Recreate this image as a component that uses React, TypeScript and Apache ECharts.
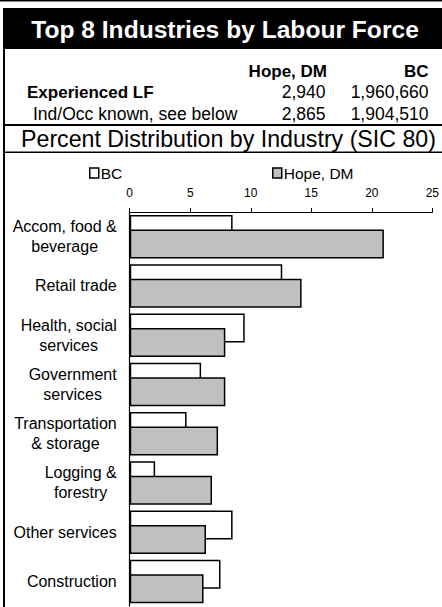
import React, { useEffect, useRef } from "react";
import * as echarts from "echarts";

const title = "Top 8 Industries by Labour Force";
const tableHeaders = ["Hope, DM", "BC"];
const tableRows = ["Experienced LF", "Ind/Occ known, see below"];
const hopeCounts = ["2,940", "2,865"];
const bcCounts = ["1,960,660", "1,904,510"];
const subtitle = "Percent Distribution by Industry (SIC 80)";

const categories = [
  "Accom, food &\nbeverage",
  "Retail trade",
  "Health, social\nservices",
  "Government\nservices",
  "Transportation\n& storage",
  "Logging &\nforestry",
  "Other services",
  "Construction",
];
const bcValues = [8.5, 12.6, 9.5, 5.9, 4.7, 2.1, 8.5, 7.5];
const hopeValues = [21.0, 14.2, 7.9, 7.9, 7.3, 6.8, 6.3, 6.1];
const xTicks = { min: 0, max: 25, interval: 5 };

const FONT = "Liberation Sans, Arial, sans-serif";

export default function App() {
  const ref = useRef<HTMLDivElement>(null);
  useEffect(() => {
    if (!ref.current) return;
    const chart = echarts.init(ref.current, null, { renderer: "svg" });
    const graphic: any[] = [
      { type: "rect", shape: { x: 0, y: 0, width: 442, height: 1.5 }, style: { fill: "#000" } },
      { type: "rect", shape: { x: 3, y: 8, width: 439, height: 41 }, style: { fill: "#000" } },
      { type: "rect", shape: { x: 3, y: 49, width: 2, height: 558 }, style: { fill: "#000" } },
      { type: "rect", shape: { x: 3, y: 124, width: 439, height: 2 }, style: { fill: "#000" } },
      { type: "rect", shape: { x: 3, y: 151.5, width: 439, height: 1.5 }, style: { fill: "#000" } },
      {
        type: "text", x: 225, y: 29.5,
        style: { text: title, fill: "#fff", font: `bold 24.6px ${FONT}`, align: "center", verticalAlign: "middle" },
      },
      {
        type: "text", x: 327, y: 71,
        style: { text: tableHeaders[0], fill: "#000", font: `bold 17px ${FONT}`, align: "right", verticalAlign: "middle" },
      },
      {
        type: "text", x: 428.5, y: 71,
        style: { text: tableHeaders[1], fill: "#000", font: `bold 17px ${FONT}`, align: "right", verticalAlign: "middle" },
      },
      {
        type: "text", x: 27, y: 92,
        style: { text: tableRows[0], fill: "#000", font: `bold 17px ${FONT}`, align: "left", verticalAlign: "middle" },
      },
      {
        type: "text", x: 33, y: 113.5,
        style: { text: tableRows[1], fill: "#000", font: `17.5px ${FONT}`, align: "left", verticalAlign: "middle" },
      },
      ...hopeCounts.map((t, i) => ({
        type: "text", x: 325.5, y: i === 0 ? 92 : 113.5,
        style: { text: t, fill: "#000", font: `17.5px ${FONT}`, align: "right", verticalAlign: "middle" },
      })),
      ...bcCounts.map((t, i) => ({
        type: "text", x: 428.5, y: i === 0 ? 92 : 113.5,
        style: { text: t, fill: "#000", font: `17.5px ${FONT}`, align: "right", verticalAlign: "middle" },
      })),
      {
        type: "text", x: 228.5, y: 139,
        style: { text: subtitle, fill: "#000", font: `23.2px ${FONT}`, align: "center", verticalAlign: "middle" },
      },
    ];

    chart.setOption({
      animation: false,
      backgroundColor: "#fff",
      textStyle: { fontFamily: FONT },
      graphic,
      legend: [
        {
          data: ["BC"], left: 84, top: 160, icon: "rect", itemWidth: 9, itemHeight: 10, itemGap: 0,
          textStyle: { fontSize: 15.5, color: "#000", padding: [0, 0, 0, -3] },
          itemStyle: { borderColor: "#000", borderWidth: 1.5 },
        },
        {
          data: ["Hope, DM"], left: 267, top: 160, icon: "rect", itemWidth: 9, itemHeight: 10, itemGap: 0,
          textStyle: { fontSize: 15.5, color: "#000", padding: [0, 0, 0, -3] },
          itemStyle: { borderColor: "#000", borderWidth: 1.5 },
        },
      ],
      grid: { left: 129.7, right: 8, top: 212, bottom: 1, containLabel: false },
      xAxis: {
        type: "value",
        position: "top",
        min: xTicks.min,
        max: xTicks.max,
        interval: xTicks.interval,
        axisLine: { show: true, lineStyle: { color: "#000", width: 1 } },
        axisTick: { show: true, length: 4, lineStyle: { color: "#000" } },
        axisLabel: { fontSize: 12, color: "#000", margin: 13 },
        splitLine: { show: false },
      },
      yAxis: {
        type: "category",
        inverse: true,
        data: categories,
        axisLine: { show: true, lineStyle: { color: "#000", width: 1.2 } },
        axisTick: { show: false },
        axisLabel: {
          margin: 13,
          formatter: (v: string) => v.split("\n").map((l) => `{c|${l}}`).join("\n"),
          rich: { c: { align: "center", fontSize: 16, lineHeight: 20, color: "#000", fontFamily: FONT } },
        },
      },
      series: [
        {
          name: "BC",
          type: "bar",
          data: bcValues,
          barWidth: 29,
          barGap: "-50%",
          itemStyle: { color: "#fff", borderColor: "#000", borderWidth: 1.5 },
        },
        {
          name: "Hope, DM",
          type: "bar",
          data: hopeValues,
          barWidth: 29,
          barGap: "-50%",
          itemStyle: { color: "#c0c0c0", borderColor: "#000", borderWidth: 1.5 },
        },
      ],
    });
    return () => chart.dispose();
  }, []);
  return (
    <div
      ref={ref}
      style={{ position: "absolute", left: 0, top: 0, width: 442, height: 607, background: "#fff" }}
    />
  );
}
